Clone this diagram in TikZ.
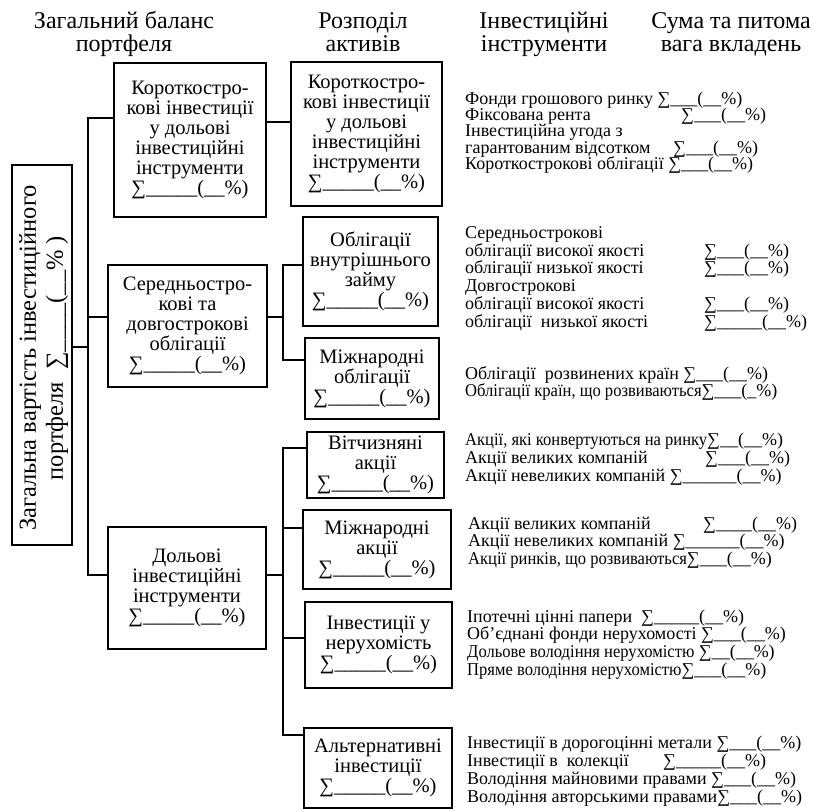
\documentclass[tikz,border=0pt]{standalone}
\usepackage{fontspec}
\setmainfont{Liberation Serif}
\usetikzlibrary{positioning}
\newcommand{\sumbox}{∑\_\_\_\_\_(\_\_\%)}
\newcommand{\sumlist}{∑\_\_\_(\_\_\%)}
\newcommand{\tight}[1]{\scalebox{0.92}[1]{#1}}
\newcommand{\padto}[2]{\makebox[#1][l]{#2}}
\newcommand{\tightlead}{\lineskiplimit=-100pt\relax}
\newcommand{\toprow}[1]{\rule{0pt}{#1pt}}

\begin{document}
\begin{tikzpicture}[x=1pt, y=-1pt,
    heading/.style={anchor=north, align=center, inner sep=0pt, font=\fontsize{24}{23}\selectfont\tightlead},
    assetbox/.style={draw, line width=1.2pt, align=center, inner sep=0pt, font=\fontsize{20.5}{20}\selectfont\tightlead},
    tool/.style={anchor=north west, align=left, inner sep=0pt, font=\fontsize{18}{#1}\selectfont\tightlead},
    link/.style={line width=1.2pt}
  ]
    \useasboundingbox (0,0) rectangle (826,811);

    \node[heading] (hbal) at (124,11) {\toprow{17}Загальний баланс\\портфеля};
    \node[heading] (hast) at (363,11) {\toprow{17}Розподіл\\активів};
    \node[heading] (hins) at (544,11) {\toprow{17}Інвестиційні\\інструменти};
    \node[heading] (hsum) at (731,11) {\toprow{17}Сума та питома\\вага вкладень};

    \node[draw, line width=1.2pt, minimum width=60, minimum height=380, inner sep=0pt] (total) at (42,355) {};
    \node[rotate=90, align=center, inner sep=0pt, font=\fontsize{24.5}{27}\selectfont\tightlead] (totaltxt) at (43.5,358)
      {Загальна вартість інвестиційного\\портфеля~~∑\_\_\_\_(\_\_\% )};

    \node[assetbox, minimum width=152, minimum height=154] (shortbal) at (190,140) {Короткостро-\\кові інвестиції\\у дольові\\інвестиційні\\інструменти\\\sumbox};
    \node[assetbox, minimum width=151, minimum height=144] (shortast) at (366.5,134) {Короткостро-\\кові інвестиції\\у дольові\\інвестиційні\\інструменти\\\sumbox};
    \node[assetbox, minimum width=159, minimum height=122] (bondbal) at (187.5,326) {Середньостро-\\кові та\\довгострокові\\облігації\\\sumbox};
    \node[assetbox, minimum width=135, minimum height=109] (bonddom) at (370.5,271.5) {Облігації\\внутрішнього\\займу\\\sumbox};
    \node[assetbox, minimum width=134, minimum height=81] (bondint) at (372,378.5) {Міжнародні\\облігації\\\sumbox};
    \node[assetbox, minimum width=158, minimum height=122] (eqbal) at (187,588) {Дольові\\інвестиційні\\інструменти\\\sumbox};
    \node[assetbox, minimum width=137, minimum height=66] (eqdom) at (375.5,465) {Вітчизняні\\акції\\\sumbox};
    \node[assetbox, minimum width=148, minimum height=79] (eqint) at (377,549.5) {Міжнародні\\акції\\\sumbox};
    \node[assetbox, minimum width=147, minimum height=86] (realty) at (378.5,645) {Інвестиції у\\нерухомість\\\sumbox};
    \node[assetbox, minimum width=148, minimum height=80] (altinv) at (378,768) {Альтернативні\\інвестиції\\\sumbox};

    % trunk from the total box
    \coordinate (jtot) at (88,347);
    \coordinate (jtop) at (88,118);
    \coordinate (jmid) at (88,317);
    \coordinate (jbot) at (88,575);
    \draw[link] (jtot -| total.east) -- (jtot);
    \draw[link] (jtop -| shortbal.west) -- (jtop) -- (jbot) -- (jbot -| eqbal.west);
    \draw[link] (jmid) -- (jmid -| bondbal.west);

    % second level
    \coordinate (jshort) at (278,122);
    \draw[link] (jshort -| shortbal.east) -- (jshort -| shortast.west);
    \coordinate (jbond) at (283,317);
    \coordinate (jb1) at (283,265);
    \coordinate (jb2) at (283,360);
    \draw[link] (jbond -| bondbal.east) -- (jbond);
    \draw[link] (jb1 -| bonddom.west) -- (jb1) -- (jb2) -- (jb2 -| bondint.west);
    \coordinate (jeq) at (283,575);
    \coordinate (je1) at (283,448);
    \coordinate (je2) at (283,528);
    \coordinate (je3) at (283,638);
    \coordinate (je4) at (283,735);
    \draw[link] (jeq -| eqbal.east) -- (jeq);
    \draw[link] (je1 -| eqdom.west) -- (je1) -- (je4) -- (je4 -| altinv.west);
    \draw[link] (je2) -- (je2 -| eqint.west);
    \draw[link] (je3) -- (je3 -| realty.west);

    % instruments and shares
    \node[tool=16.3] (lshort) at (465,89) {\toprow{15}Фонди грошового ринку \sumlist\\
      \padto{216pt}{Фіксована рента}\sumlist\\
      Інвестиційна угода з\\
      \padto{208pt}{гарантованим відсотком}\sumlist\\
      Короткострокові облігації \sumlist};
    \node[tool=17.8] (lbond) at (465,223) {\toprow{15}Середньострокові\\
      \padto{239pt}{облігації високої якості}\sumlist\\
      \padto{239pt}{облігації низької якості}\sumlist\\
      Довгострокові\\
      \padto{239pt}{облігації високої якості}\sumlist\\
      \padto{239pt}{облігації~~низької якості}∑\_\_\_\_\_(\_\_\%)};
    \node[tool=16.8] (lbondint) at (465,364) {\toprow{15}Облігації~~розвинених країн \sumlist\\
      \tight{Облігації країн, що розвиваються}∑\_\_\_(\_\%)};
    \node[tool=18] (leqdom) at (465,430) {\toprow{15}\tight{Акції, які конвертуються на ринку}∑\_\_(\_\_\%)\\
      \padto{240pt}{Акції великих компаній}\sumlist\\
      Акції невеликих компаній ∑\_\_\_\_\_\_(\_\_\%)};
    \node[tool=17.5] (leqint) at (468,514) {\toprow{15}\padto{235pt}{Акції великих компаній}∑\_\_\_\_(\_\_\%)\\
      Акції невеликих компаній ∑\_\_\_\_\_\_(\_\_\%)\\
      \tight{Акції ринків, що розвиваються}\sumlist};
    \node[tool=17.7] (lrealty) at (467,607) {\toprow{15}Іпотечні цінні папери~~∑\_\_\_\_\_(\_\_\%)\\
      Об’єднані фонди нерухомості \sumlist\\
      \tight{Дольове володіння нерухомістю} ∑\_\_(\_\_\%)\\
      \tight{Пряме володіння нерухомістю}\sumlist};
    \node[tool=18] (lalt) at (467,733) {\toprow{15}Інвестиції в дорогоцінні метали \sumlist\\
      \padto{196pt}{Інвестиції в~~колекції}∑\_\_\_\_\_(\_\_\%)\\
      Володіння майновими правами \sumlist\\
      Володіння авторськими правами\sumlist};
  \end{tikzpicture}
\end{document}
